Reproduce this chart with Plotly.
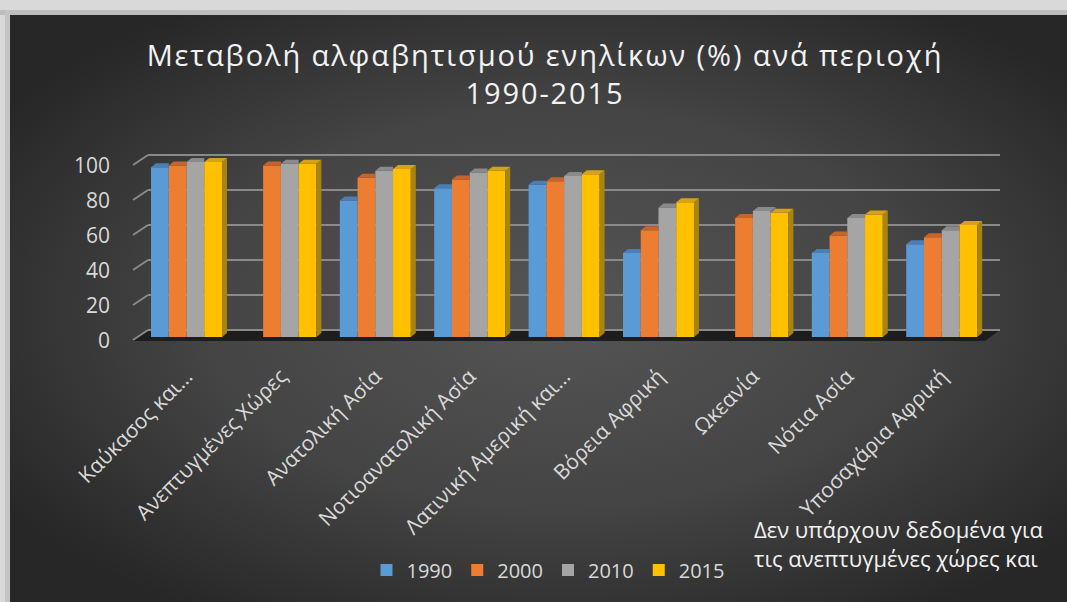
import base64
import plotly.graph_objects as go

# ---------------- data ----------------
categories = ["Καύκασος και…", "Ανεπτυγμένες Χώρες", "Ανατολική Ασία",
              "Νοτιοανατολική Ασία", "Λατινική Αμερική και…", "Βόρεια Αφρική",
              "Ωκεανία", "Νότια Ασία", "Υποσαχάρια Αφρική"]
years = ["1990", "2000", "2010", "2015"]
v1990 = [97, None, 78, 85, 87, 48, None, 48, 53]
v2000 = [98, 98, 91, 90, 89, 61, 68, 58, 57]
v2010 = [100, 99, 95, 94, 92, 74, 72, 68, 61]
v2015 = [100, 99, 96, 95, 93, 77, 71, 70, 64]
y_ticks = [0, 20, 40, 60, 80, 100]
title_text = "Μεταβολή αλφαβητισμού ενηλίκων (%) ανά περιοχή<br>1990-2015"
note_text = "Δεν υπάρχουν δεδομένα για<br>τις ανεπτυγμένες χώρες και"

series = [v1990, v2000, v2010, v2015]

# ---------------- style / geometry ----------------
W, H = 1067, 602
L, R, T, B = 148, 1000, 150, 345          # plot area in px
X_UNIT = 94.4                              # px per category
X_C0 = 186.5                               # px of first category centre
Y_UNIT = 1.75                              # px per percent
Y0 = 337                                   # px of value 0 (front)
xr = [(L - X_C0) / X_UNIT, (R - X_C0) / X_UNIT]
yr = [(Y0 - B) / Y_UNIT, (Y0 - T) / Y_UNIT]
WALL_SHIFT = 4.0                           # back-wall shift in value units
LABEL_SHIFT = 2.3                          # tick labels sit slightly lower
BAR_W = 0.188
DX = 5 / X_UNIT
DY = 4 / Y_UNIT

front_cols = ["#5b9bd5", "#ed7d31", "#a5a5a5", "#ffc000"]
cap_cols = ["#4a7fb5", "#c8642a", "#8a8a8a", "#d6a21a"]
side_cols = ["#3e6d9c", "#b0561f", "#7a7a7a", "#a88410"]
FONT = "Open Sans"


def px(xp):
    return (xp - L) / (R - L)


def py(yp):
    return (B - yp) / (B - T)


fig = go.Figure()

n_cat = len(categories)
# front faces (real bars)
for s, vals in enumerate(series):
    xs = [i + (s - 1.5) * BAR_W for i in range(n_cat)]
    fig.add_trace(go.Bar(x=xs, y=vals, width=BAR_W, name=years[s],
                         marker=dict(color=front_cols[s], line=dict(width=0)),
                         hoverinfo="y+name"))

# 3D tops and sides derived from the same values
for s, vals in enumerate(series):
    cx, cy, sx, sy = [], [], [], []
    for i, v in enumerate(vals):
        if v is None:
            continue
        xc = i + (s - 1.5) * BAR_W
        x0, x1 = xc - BAR_W / 2, xc + BAR_W / 2
        nxt = series[s + 1][i] if s < 3 else None
        if nxt is not None and nxt >= v:
            cx += [x0, x1, x1, x0 + DX, x0, None]
            cy += [v, v, v + DY, v + DY, v, None]
        else:
            cx += [x0, x1, x1 + DX, x0 + DX, x0, None]
            cy += [v, v, v + DY, v + DY, v, None]
            lo = nxt if nxt is not None else 0
            sx += [x1, x1, x1 + DX, x1 + DX, x1, None]
            sy += [lo, v, v + DY, lo + DY, lo, None]
    if sx:
        fig.add_trace(go.Scatter(x=sx, y=sy, mode="lines", fill="toself",
                                 fillcolor=side_cols[s], line=dict(width=0),
                                 showlegend=False, hoverinfo="skip"))
    fig.add_trace(go.Scatter(x=cx, y=cy, mode="lines", fill="toself",
                             fillcolor=cap_cols[s], line=dict(width=0),
                             showlegend=False, hoverinfo="skip"))

# ---------------- background ----------------
svg = ('<svg xmlns="http://www.w3.org/2000/svg" width="1057" height="587">'
       '<defs><radialGradient id="g" cx="0.52" cy="0.5" r="0.62">'
       '<stop offset="0" stop-color="#555555"/>'
       '<stop offset="0.55" stop-color="#444444"/>'
       '<stop offset="1" stop-color="#272727"/></radialGradient></defs>'
       '<rect width="1057" height="587" fill="url(#g)"/></svg>')
src = "data:image/svg+xml;base64," + base64.b64encode(svg.encode()).decode()

shapes = [
    # outer frame shadow
    dict(type="rect", xref="paper", yref="paper", x0=px(0), x1=px(W),
         y0=py(10), y1=py(15), fillcolor="#bdbdbd", line=dict(width=0), layer="below"),
    dict(type="rect", xref="paper", yref="paper", x0=px(5), x1=px(10),
         y0=py(H), y1=py(10), fillcolor="#c4c4c4", line=dict(width=0), layer="below"),
    # floor
    dict(type="path", xref="paper", yref="paper",
         path=(f"M {px(133)} {py(341)} L {px(148)} {py(330)} L {px(1000)} {py(330)} "
               f"L {px(985)} {py(341)} Z"),
         fillcolor="#1d1d1d", line=dict(width=0), layer="below"),
]
# left wall slanted grid connectors
for t in y_ticks:
    yf = Y0 - t * Y_UNIT
    yb = Y0 - (t + WALL_SHIFT) * Y_UNIT
    shapes.append(dict(type="line", xref="paper", yref="paper",
                       x0=px(133), y0=py(yf + 3), x1=px(148), y1=py(yb),
                       line=dict(color="#8a8a8a", width=2), layer="below"))

fig.update_layout(
    width=W, height=H,
    margin=dict(l=L, r=W - R, t=T, b=H - B, autoexpand=False),
    paper_bgcolor="#d9d9d9",
    plot_bgcolor="rgba(0,0,0,0)",
    barmode="overlay",
    images=[dict(source=src, xref="paper", yref="paper", x=px(10), y=py(15),
                 sizex=(W - 10) / (R - L), sizey=(H - 15) / (B - T),
                 xanchor="left", yanchor="top", sizing="stretch", layer="below")],
    shapes=shapes,
    title=dict(text=title_text, x=545 / W, xanchor="center", y=1 - 66 / H,
               yanchor="middle", yref="container",
               font=dict(family=FONT, size=29, color="#f2f2f2")),
    xaxis=dict(range=xr, tickmode="array", tickvals=list(range(n_cat)),
               ticktext=categories, tickangle=-45, showgrid=False,
               zeroline=False, showline=False, ticks="",
               ticklabelstandoff=14,
               tickfont=dict(family=FONT, size=21, color="#d9d9d9")),
    yaxis=dict(range=yr, showgrid=False, showticklabels=False,
               zeroline=False, showline=False, ticks=""),
    yaxis2=dict(range=[yr[0] - WALL_SHIFT, yr[1] - WALL_SHIFT], overlaying="y",
                tickmode="array", tickvals=y_ticks, showticklabels=False,
                showgrid=True, gridcolor="#8a8a8a", gridwidth=2,
                zeroline=False, showline=False, ticks=""),
    yaxis3=dict(range=[yr[0] + LABEL_SHIFT, yr[1] + LABEL_SHIFT], overlaying="y",
                side="left", tickmode="array", tickvals=y_ticks, showgrid=False,
                zeroline=False, showline=False, ticks="", ticklabelstandoff=37,
                tickfont=dict(family=FONT, size=21, color="#d9d9d9")),
    legend=dict(orientation="h", xref="container", yref="container",
                x=548 / W, xanchor="center", y=1 - 570 / H, yanchor="middle",
                font=dict(family=FONT, size=20, color="#d9d9d9"),
                bgcolor="rgba(0,0,0,0)", itemwidth=30, traceorder="normal"),
    annotations=[dict(text=note_text, xref="paper", yref="paper",
                      x=px(752), y=py(512), xanchor="left", yanchor="top",
                      align="left", showarrow=False,
                      font=dict(family=FONT, size=22, color="#f2f2f2"))],
    showlegend=True,
)

# dummy traces to activate the helper axes
fig.add_trace(go.Scatter(x=[None], y=[None], yaxis="y2", showlegend=False,
                         hoverinfo="skip"))
fig.add_trace(go.Scatter(x=[None], y=[None], yaxis="y3", showlegend=False,
                         hoverinfo="skip"))

post = ("document.body.style.margin='0';"
        "document.querySelectorAll('.gtitle').forEach(function(e){"
        "e.style.letterSpacing='1.9px';});")
fig.write_html("out.html", post_script=post, config={"displayModeBar": False})
